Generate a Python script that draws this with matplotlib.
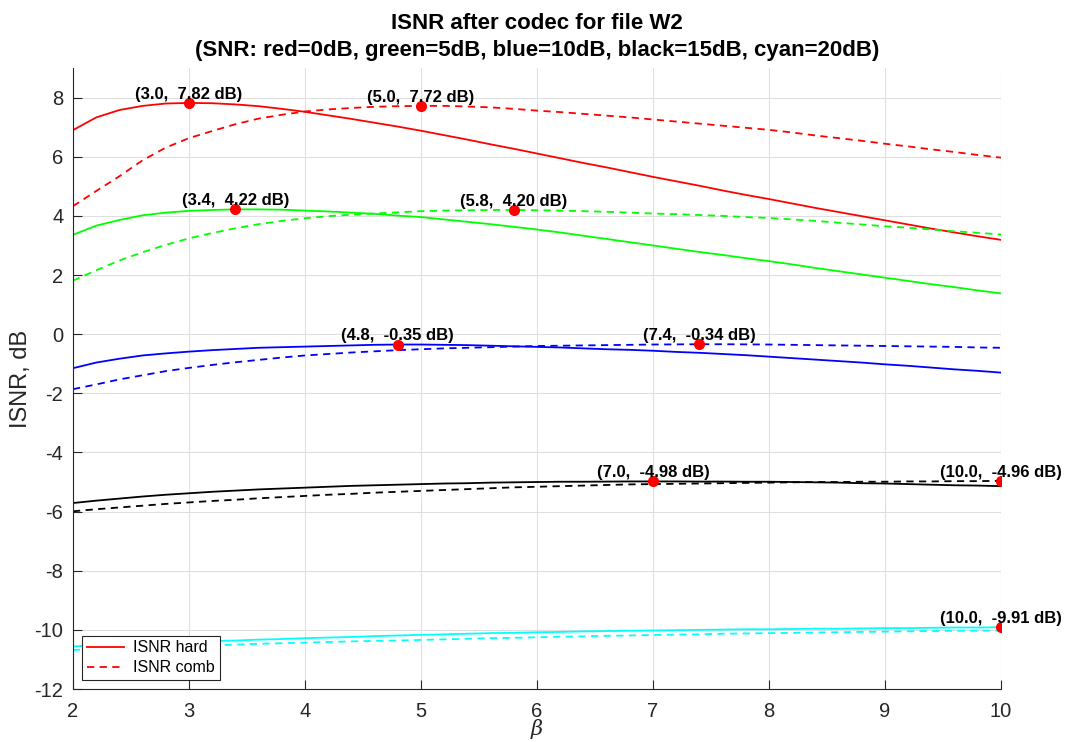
import numpy as np
import matplotlib
matplotlib.use("Agg")
import matplotlib.pyplot as plt

plt.rcParams['font.family'] = ['Liberation Sans', 'DejaVu Sans']
plt.rcParams['axes.unicode_minus'] = False

beta = [2.0, 2.2, 2.4, 2.6, 2.8, 3.0, 3.2, 3.4, 3.6, 3.8,
        4.0, 4.2, 4.4, 4.6, 4.8, 5.0, 5.2, 5.4, 5.6, 5.8,
        6.0, 6.2, 6.4, 6.6, 6.8, 7.0, 7.2, 7.4, 7.6, 7.8,
        8.0, 8.2, 8.4, 8.6, 8.8, 9.0, 9.2, 9.4, 9.6, 9.8, 10.0]

# SNR = 0 dB (red)
hard_0 = [6.90, 7.33, 7.58, 7.72, 7.80, 7.82, 7.81, 7.77, 7.71, 7.62,
          7.52, 7.40, 7.28, 7.15, 7.02, 6.88, 6.73, 6.58, 6.42, 6.27,
          6.11, 5.95, 5.79, 5.64, 5.48, 5.32, 5.17, 5.02, 4.86, 4.71,
          4.57, 4.42, 4.27, 4.13, 3.99, 3.85, 3.71, 3.57, 3.44, 3.31, 3.19]
comb_0 = [4.33, 4.84, 5.34, 5.88, 6.31, 6.63, 6.87, 7.10, 7.29, 7.42,
          7.53, 7.60, 7.65, 7.69, 7.71, 7.72, 7.72, 7.70, 7.67, 7.62,
          7.56, 7.51, 7.45, 7.39, 7.33, 7.26, 7.19, 7.12, 7.05, 6.98,
          6.91, 6.82, 6.72, 6.63, 6.54, 6.44, 6.35, 6.25, 6.16, 6.06, 5.97]

# SNR = 5 dB (green)
hard_5 = [3.36, 3.67, 3.86, 4.02, 4.11, 4.17, 4.20, 4.22, 4.22, 4.21,
          4.18, 4.15, 4.11, 4.07, 4.01, 3.96, 3.88, 3.80, 3.72, 3.63,
          3.54, 3.44, 3.33, 3.22, 3.11, 3.00, 2.89, 2.78, 2.68, 2.57,
          2.47, 2.36, 2.24, 2.13, 2.02, 1.91, 1.80, 1.69, 1.59, 1.48, 1.38]
comb_5 = [1.81, 2.16, 2.49, 2.77, 3.02, 3.24, 3.42, 3.58, 3.72, 3.83,
          3.92, 3.99, 4.04, 4.08, 4.12, 4.16, 4.18, 4.19, 4.20, 4.20,
          4.19, 4.18, 4.16, 4.14, 4.11, 4.08, 4.06, 4.03, 4.00, 3.96,
          3.93, 3.88, 3.83, 3.77, 3.71, 3.65, 3.60, 3.54, 3.48, 3.43, 3.37]

# SNR = 10 dB (blue)
hard_10 = [-1.15, -0.96, -0.83, -0.72, -0.65, -0.59, -0.54, -0.50, -0.46, -0.44,
           -0.42, -0.40, -0.38, -0.36, -0.35, -0.35, -0.36, -0.37, -0.39, -0.41,
           -0.43, -0.45, -0.48, -0.51, -0.53, -0.56, -0.60, -0.63, -0.67, -0.71,
           -0.76, -0.81, -0.86, -0.91, -0.96, -1.02, -1.07, -1.13, -1.19, -1.24, -1.30]
comb_10 = [-1.86, -1.70, -1.53, -1.39, -1.25, -1.14, -1.04, -0.95, -0.87, -0.79,
           -0.72, -0.67, -0.62, -0.58, -0.54, -0.51, -0.48, -0.46, -0.44, -0.42,
           -0.40, -0.39, -0.38, -0.37, -0.36, -0.35, -0.345, -0.34, -0.34, -0.345,
           -0.35, -0.36, -0.37, -0.38, -0.39, -0.40, -0.41, -0.42, -0.43, -0.45, -0.46]

# SNR = 15 dB (black)
hard_15 = [-5.71, -5.63, -5.56, -5.49, -5.43, -5.38, -5.33, -5.29, -5.25, -5.22,
           -5.19, -5.16, -5.13, -5.11, -5.09, -5.07, -5.05, -5.04, -5.02, -5.01,
           -5.00, -4.99, -4.99, -4.985, -4.98, -4.98, -4.98, -4.985, -4.985, -4.99,
           -4.99, -5.00, -5.01, -5.02, -5.04, -5.05, -5.07, -5.09, -5.11, -5.12, -5.14]
comb_15 = [-5.99, -5.92, -5.86, -5.80, -5.74, -5.69, -5.64, -5.60, -5.55, -5.51,
           -5.47, -5.43, -5.40, -5.36, -5.33, -5.30, -5.27, -5.24, -5.21, -5.18,
           -5.16, -5.14, -5.12, -5.10, -5.08, -5.07, -5.06, -5.05, -5.04, -5.03,
           -5.02, -5.01, -5.00, -5.00, -4.99, -4.99, -4.98, -4.98, -4.97, -4.97, -4.96]

# SNR = 20 dB (cyan)
hard_20 = [-10.56, -10.52, -10.49, -10.46, -10.43, -10.41, -10.38, -10.36, -10.33, -10.31,
           -10.28, -10.26, -10.24, -10.21, -10.19, -10.17, -10.15, -10.13, -10.11, -10.10,
           -10.08, -10.07, -10.05, -10.04, -10.03, -10.02, -10.01, -10.00, -9.99, -9.98,
           -9.98, -9.97, -9.96, -9.96, -9.95, -9.94, -9.94, -9.93, -9.92, -9.92, -9.91]
comb_20 = [-10.68, -10.65, -10.62, -10.59, -10.56, -10.54, -10.52, -10.50, -10.47, -10.45,
           -10.43, -10.41, -10.39, -10.37, -10.36, -10.34, -10.32, -10.30, -10.28, -10.27,
           -10.25, -10.23, -10.22, -10.20, -10.19, -10.17, -10.16, -10.15, -10.13, -10.12,
           -10.11, -10.10, -10.09, -10.08, -10.07, -10.06, -10.05, -10.04, -10.03, -10.03, -10.02]

# maxima marked on the plot
peak_x = [3.0, 5.0, 3.4, 5.8, 4.8, 7.4, 7.0, 10.0, 10.0]
peak_y = [7.82, 7.72, 4.22, 4.20, -0.35, -0.34, -4.98, -4.96, -9.91]

curves = [
    (hard_0, comb_0, '#ff0000'),
    (hard_5, comb_5, '#00ff00'),
    (hard_10, comb_10, '#0000ff'),
    (hard_15, comb_15, '#000000'),
    (hard_20, comb_20, '#00ffff'),
]

fig = plt.figure(figsize=(10.67, 7.42), dpi=100)
ax = fig.add_axes([0.0684, 0.0714, 0.8697, 0.8369])

for i, (h, c, col) in enumerate(curves):
    ax.plot(beta, h, '-', color=col, lw=1.3, label='ISNR hard' if i == 0 else None)
    ax.plot(beta, c, '--', color=col, lw=1.3, dashes=(4, 3),
            label='ISNR comb' if i == 0 else None)

ax.plot(peak_x, peak_y, 'o', color='#ff0000', ms=7, zorder=5)
for px, py in zip(peak_x, peak_y):
    ax.text(px, py + 0.04, f'({px:.1f},  {py:.2f} dB)', ha='center', va='bottom',
            fontsize=12, fontweight='bold', zorder=6)

ax.set_xlim(2, 10)
ax.set_ylim(-12, 9)
ax.set_xticks(range(2, 11))
ax.set_yticks(range(-12, 9, 2))
ax.grid(True, color='#dfdfdf', lw=0.8)
ax.set_axisbelow(True)
ax.spines['top'].set_visible(False)
ax.spines['right'].set_visible(False)
for s in ['left', 'bottom']:
    ax.spines[s].set_color('#262626')
ax.tick_params(direction='in', length=6.5, width=0.8, colors='#262626',
               labelsize=14.5)
ax.tick_params(axis='y', pad=7)
ax.tick_params(axis='x', pad=9)

ax.set_xlabel('β', fontsize=15, fontstyle='italic', family='DejaVu Serif',
              color='#262626', labelpad=-1)
ax.set_ylabel('ISNR, dB', fontsize=17, color='#262626', labelpad=2)
ax.set_title('ISNR after codec for file W2\n(SNR: red=0dB, green=5dB, blue=10dB, black=15dB, cyan=20dB)',
             fontsize=16, fontweight='bold', linespacing=1.35, pad=9)

leg = ax.legend(loc='lower left', bbox_to_anchor=(0.0097, 0.0145), borderaxespad=0,
                fontsize=11.5, fancybox=False, framealpha=1, handlelength=2.3,
                borderpad=0.3, labelspacing=0.3, handletextpad=0.6)
leg.get_frame().set_edgecolor('#262626')
leg.get_frame().set_linewidth(0.8)

fig.savefig('out.png', dpi=100)
